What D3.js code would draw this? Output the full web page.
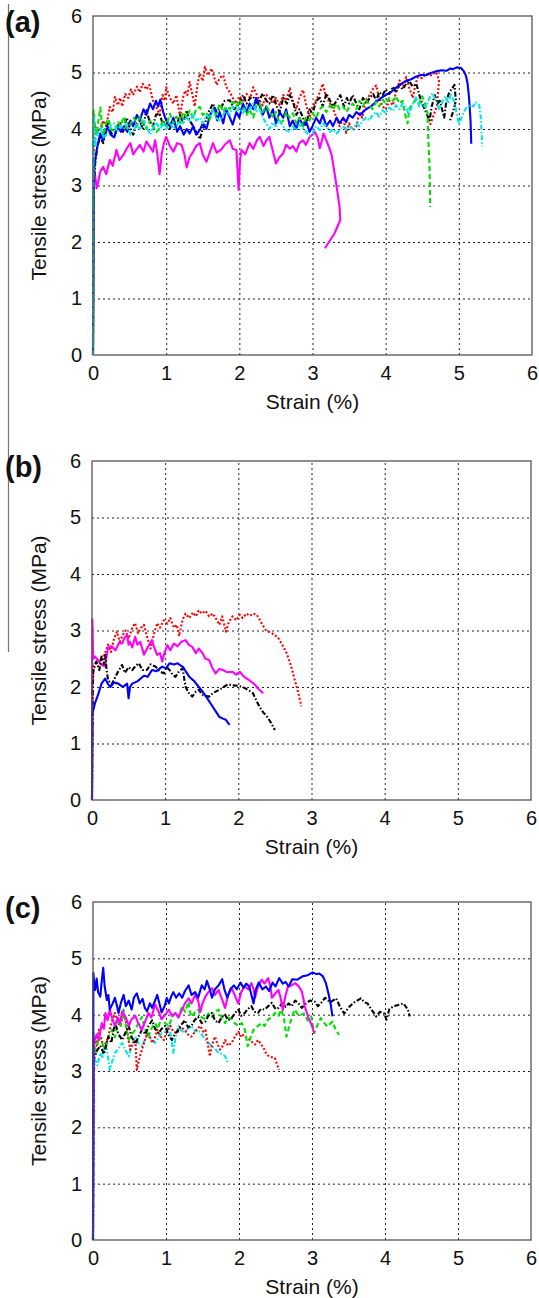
<!DOCTYPE html>
<html>
<head>
<meta charset="utf-8">
<script src="https://cdn.jsdelivr.net/npm/d3@7"></script>
<style>
  body { margin: 0; background: #fff; }
  svg { display: block; font-family: "Liberation Sans", Arial, sans-serif; }
</style>
</head>
<body>
<script>
// axis ticks shared by all three panels
const strainTicks = [0, 1, 2, 3, 4, 5, 6];
const stressTicks = [0, 1, 2, 3, 4, 5, 6];
const panelLabels = ["(a)", "(b)", "(c)"];
const xTitle = "Strain (%)";
const yTitle = "Tensile stress (MPa)";

// ---- panel (a) : [strain %, stress MPa]
const aRed = [[0,0],[0.01,3.6],[0.03,4.04],[0.08,3.95],[0.14,4.15],[0.18,4.05],[0.23,4.39],[0.27,4.3],[0.3,4.57],[0.34,4.42],[0.37,4.55],[0.4,4.4],[0.44,4.62],[0.48,4.55],[0.52,4.7],[0.55,4.6],[0.6,4.75],[0.64,4.65],[0.68,4.8],[0.73,4.7],[0.77,4.78],[0.82,4.5],[0.86,4.4],[0.91,4.25],[0.95,4.6],[0.98,4.5],[1.0,4.74],[1.05,4.55],[1.1,4.45],[1.14,4.6],[1.19,4.22],[1.23,4.55],[1.26,4.68],[1.29,4.6],[1.32,4.83],[1.36,4.6],[1.39,4.4],[1.43,4.8],[1.46,4.98],[1.5,4.85],[1.53,5.1],[1.57,4.95],[1.62,5.07],[1.66,4.9],[1.69,4.78],[1.73,4.9],[1.78,4.95],[1.82,4.75],[1.87,4.65],[1.91,4.55],[1.96,4.45],[2.0,4.58],[2.05,4.5],[2.1,4.62],[2.15,4.55],[2.19,4.74],[2.24,4.6],[2.28,4.5],[2.32,4.42],[2.37,4.6],[2.41,4.55],[2.46,4.45],[2.5,4.55],[2.55,4.42],[2.6,4.6],[2.64,4.5],[2.69,4.72],[2.73,4.5],[2.78,4.35],[2.82,4.55],[2.87,4.69],[2.91,4.45],[2.96,4.2],[3.0,4.4],[3.05,4.51],[3.1,4.65],[3.14,4.8],[3.18,4.6],[3.22,4.5],[3.26,4.4],[3.3,4.3],[3.34,4.15],[3.37,4.05],[3.42,4.2],[3.46,3.93],[3.5,4.1],[3.55,3.98],[3.6,4.05],[3.64,4.3],[3.68,4.2],[3.73,4.51],[3.78,4.6],[3.82,4.7],[3.87,4.77],[3.91,4.55],[3.96,4.4],[4.0,4.35],[4.05,4.5],[4.1,4.42],[4.15,4.7],[4.19,4.86],[4.24,4.75],[4.28,4.92],[4.33,4.7],[4.37,4.55],[4.41,4.8],[4.44,4.92],[4.5,4.9],[4.55,4.98],[4.62,4.95],[4.69,5.01],[4.73,4.86],[4.7,4.4],[4.6,4.05]];
const aBlack = [[0,0],[0.01,3.0],[0.03,3.39],[0.06,3.7],[0.1,3.85],[0.14,3.75],[0.2,4.1],[0.24,3.95],[0.29,3.85],[0.33,4.05],[0.37,4.1],[0.41,3.95],[0.46,4.2],[0.5,4.05],[0.55,3.9],[0.6,4.1],[0.64,4.15],[0.68,4.0],[0.73,4.33],[0.77,4.15],[0.82,4.05],[0.86,4.25],[0.91,4.27],[0.95,4.1],[1.0,4.18],[1.05,4.0],[1.09,4.15],[1.14,4.05],[1.19,4.25],[1.23,4.1],[1.28,4.33],[1.32,4.15],[1.37,4.05],[1.41,3.95],[1.46,3.82],[1.5,4.0],[1.53,4.1],[1.58,4.3],[1.64,4.45],[1.69,4.3],[1.75,4.38],[1.8,4.5],[1.87,4.51],[1.93,4.35],[2.0,4.45],[2.05,4.6],[2.1,4.45],[2.15,4.55],[2.19,4.57],[2.25,4.45],[2.32,4.63],[2.37,4.5],[2.41,4.45],[2.46,4.6],[2.51,4.4],[2.55,4.3],[2.6,4.55],[2.65,4.45],[2.69,4.6],[2.74,4.45],[2.78,4.25],[2.82,4.35],[2.87,4.2],[2.91,4.05],[2.96,4.35],[3.0,4.27],[3.05,4.5],[3.1,4.55],[3.14,4.4],[3.19,4.63],[3.24,4.5],[3.28,4.4],[3.33,4.5],[3.38,4.6],[3.43,4.4],[3.47,4.55],[3.5,4.45],[3.55,4.6],[3.6,4.45],[3.64,4.35],[3.69,4.55],[3.74,4.45],[3.78,4.55],[3.83,4.62],[3.87,4.5],[3.91,4.65],[3.96,4.6],[4.0,4.7],[4.05,4.62],[4.1,4.75],[4.14,4.65],[4.19,4.78],[4.23,4.7],[4.28,4.8],[4.32,4.85],[4.37,4.75],[4.42,4.8],[4.46,4.6],[4.5,4.45],[4.55,4.3],[4.6,4.15],[4.63,4.4],[4.67,4.6],[4.71,4.45],[4.74,4.5],[4.78,4.3],[4.8,4.2],[4.83,4.5],[4.87,4.65],[4.91,4.72],[4.94,4.78],[4.96,4.5],[4.92,4.3],[4.88,4.15]];
const aBlue = [[0,0],[0.01,3.2],[0.03,3.45],[0.06,3.7],[0.1,3.92],[0.14,3.8],[0.2,4.04],[0.24,3.9],[0.29,3.85],[0.34,4.05],[0.38,3.95],[0.42,4.04],[0.47,3.95],[0.51,4.15],[0.55,4.05],[0.6,4.25],[0.64,4.15],[0.69,4.35],[0.73,4.25],[0.78,4.45],[0.82,4.35],[0.86,4.5],[0.89,4.4],[0.92,4.52],[0.96,4.3],[1.0,4.15],[1.05,4.05],[1.1,4.2],[1.15,3.95],[1.19,4.05],[1.24,3.9],[1.28,4.0],[1.32,3.92],[1.37,4.05],[1.41,3.9],[1.46,3.98],[1.5,4.1],[1.55,4.0],[1.6,4.25],[1.66,4.38],[1.7,4.15],[1.73,4.3],[1.78,4.1],[1.82,4.35],[1.87,4.2],[1.91,4.08],[1.96,4.3],[2.0,4.2],[2.05,4.45],[2.1,4.3],[2.14,4.45],[2.19,4.35],[2.23,4.55],[2.28,4.4],[2.32,4.25],[2.37,4.4],[2.41,4.2],[2.46,4.35],[2.5,4.1],[2.55,4.3],[2.6,4.2],[2.64,4.35],[2.69,4.05],[2.73,4.15],[2.78,4.0],[2.82,4.2],[2.87,4.05],[2.91,4.15],[2.96,3.95],[3.0,4.05],[3.05,4.2],[3.1,4.1],[3.14,4.25],[3.19,4.05],[3.24,4.15],[3.28,4.05],[3.33,4.2],[3.37,4.1],[3.42,4.2],[3.46,4.12],[3.5,4.25],[3.55,4.2],[3.6,4.3],[3.65,4.25],[3.73,4.35],[3.8,4.4],[3.87,4.48],[3.94,4.55],[4.0,4.6],[4.07,4.65],[4.14,4.73],[4.21,4.8],[4.28,4.85],[4.35,4.88],[4.42,4.93],[4.49,4.96],[4.55,4.95],[4.62,4.99],[4.69,5.02],[4.76,5.04],[4.83,5.03],[4.88,5.07],[4.92,5.06],[4.97,5.09],[5.03,5.08],[5.07,5.02],[5.1,4.93],[5.12,4.8],[5.14,4.55],[5.16,4.15],[5.17,3.74]];
const aGreen = [[0,0],[0.005,4.3],[0.01,4.33],[0.03,4.0],[0.05,3.9],[0.08,4.2],[0.1,4.38],[0.12,4.1],[0.14,3.88],[0.18,4.1],[0.21,4.18],[0.25,4.0],[0.3,3.95],[0.34,4.12],[0.38,4.05],[0.42,4.22],[0.47,4.0],[0.51,4.08],[0.56,4.2],[0.6,4.05],[0.64,4.22],[0.69,4.1],[0.73,4.0],[0.78,4.15],[0.82,4.05],[0.87,3.95],[0.91,4.02],[0.96,4.15],[1.0,4.05],[1.05,4.27],[1.1,4.1],[1.14,4.22],[1.19,4.1],[1.23,4.3],[1.28,4.2],[1.32,4.33],[1.37,4.2],[1.41,4.35],[1.46,4.39],[1.5,4.25],[1.55,4.3],[1.59,4.15],[1.64,4.35],[1.68,4.25],[1.73,4.45],[1.78,4.3],[1.82,4.4],[1.87,4.35],[1.91,4.48],[1.96,4.4],[2.0,4.52],[2.05,4.4],[2.1,4.25],[2.14,4.35],[2.19,4.2],[2.23,4.4],[2.28,4.45],[2.32,4.3],[2.37,4.4],[2.41,4.32],[2.46,4.2],[2.5,4.3],[2.55,4.1],[2.6,4.15],[2.64,4.3],[2.69,4.2],[2.73,4.28],[2.78,4.1],[2.82,4.2],[2.87,4.05],[2.91,4.2],[2.96,4.15],[3.0,4.28],[3.05,4.2],[3.1,4.35],[3.14,4.4],[3.19,4.3],[3.24,4.42],[3.28,4.35],[3.33,4.45],[3.37,4.35],[3.42,4.4],[3.46,4.3],[3.5,4.38],[3.55,4.45],[3.6,4.35],[3.64,4.5],[3.69,4.4],[3.73,4.52],[3.78,4.42],[3.82,4.35],[3.87,4.48],[3.91,4.4],[3.96,4.52],[4.0,4.45],[4.05,4.55],[4.1,4.5],[4.14,4.58],[4.19,4.45],[4.23,4.5],[4.26,4.3],[4.28,4.18],[4.3,4.1],[4.32,4.35],[4.37,4.45],[4.42,4.52],[4.46,4.45],[4.5,4.58],[4.54,4.45],[4.57,4.3],[4.58,3.92],[4.6,3.33],[4.61,2.62]];
const aCyan = [[0,0],[0.005,4.2],[0.01,4.25],[0.03,3.68],[0.06,3.9],[0.1,4.04],[0.14,3.85],[0.2,3.92],[0.24,4.05],[0.29,4.1],[0.33,3.95],[0.37,4.05],[0.42,4.0],[0.46,4.1],[0.51,3.9],[0.55,3.96],[0.6,4.1],[0.64,4.0],[0.69,4.15],[0.73,4.05],[0.78,3.9],[0.82,4.02],[0.87,4.12],[0.91,3.98],[0.96,4.1],[1.0,4.0],[1.05,4.12],[1.1,4.0],[1.14,4.05],[1.19,4.18],[1.23,4.1],[1.28,4.22],[1.32,4.12],[1.37,4.27],[1.41,4.15],[1.46,4.2],[1.5,4.1],[1.55,4.25],[1.59,4.2],[1.64,4.33],[1.68,4.2],[1.73,4.15],[1.78,4.25],[1.82,4.35],[1.87,4.25],[1.91,4.4],[1.96,4.3],[2.0,4.38],[2.05,4.28],[2.1,4.4],[2.14,4.35],[2.19,4.45],[2.23,4.3],[2.28,4.35],[2.32,4.2],[2.37,4.1],[2.41,4.0],[2.46,4.12],[2.5,4.05],[2.55,4.15],[2.6,4.05],[2.64,3.98],[2.69,3.95],[2.73,4.05],[2.78,3.98],[2.82,4.08],[2.87,4.02],[2.91,3.95],[2.96,3.88],[3.0,3.92],[3.05,4.05],[3.1,3.98],[3.14,4.1],[3.19,4.05],[3.24,3.95],[3.28,4.0],[3.33,3.92],[3.37,3.98],[3.42,4.05],[3.46,3.98],[3.5,4.05],[3.55,4.0],[3.6,4.1],[3.64,4.05],[3.69,4.15],[3.73,4.2],[3.78,4.15],[3.82,4.25],[3.87,4.3],[3.91,4.22],[3.96,4.33],[4.0,4.28],[4.05,4.38],[4.1,4.32],[4.14,4.42],[4.19,4.35],[4.23,4.45],[4.28,4.38],[4.32,4.25],[4.37,4.45],[4.42,4.57],[4.46,4.4],[4.5,4.45],[4.55,4.38],[4.6,4.55],[4.64,4.63],[4.69,4.5],[4.73,4.35],[4.78,4.5],[4.82,4.58],[4.86,4.45],[4.89,4.63],[4.93,4.5],[4.96,4.35],[5.0,4.08],[5.05,4.25],[5.1,4.37],[5.15,4.42],[5.2,4.4],[5.23,4.48],[5.28,4.42],[5.3,4.2],[5.32,3.69]];
const aMagenta = [[0,0],[0.005,2.0],[0.01,3.3],[0.03,3.18],[0.05,2.95],[0.07,3.05],[0.1,3.25],[0.14,3.33],[0.18,3.2],[0.23,3.45],[0.27,3.35],[0.32,3.63],[0.36,3.45],[0.42,3.55],[0.46,3.65],[0.51,3.75],[0.55,3.55],[0.6,3.65],[0.64,3.72],[0.69,3.6],[0.73,3.78],[0.78,3.68],[0.82,3.6],[0.85,3.8],[0.88,3.55],[0.91,3.2],[0.94,3.57],[0.97,3.75],[1.0,3.86],[1.05,3.7],[1.1,3.6],[1.15,3.75],[1.21,3.72],[1.25,3.55],[1.28,3.32],[1.32,3.5],[1.37,3.6],[1.41,3.7],[1.46,3.75],[1.5,3.55],[1.55,3.42],[1.6,3.6],[1.64,3.75],[1.69,3.58],[1.75,3.63],[1.8,3.72],[1.87,3.8],[1.91,3.65],[1.96,3.63],[1.99,2.92],[2.01,3.45],[2.03,3.63],[2.08,3.55],[2.14,3.75],[2.19,3.65],[2.24,3.8],[2.28,3.86],[2.33,3.7],[2.37,3.8],[2.41,3.86],[2.46,3.6],[2.5,3.39],[2.55,3.5],[2.6,3.57],[2.64,3.72],[2.69,3.65],[2.73,3.7],[2.78,3.6],[2.82,3.75],[2.87,3.8],[2.91,3.72],[2.96,3.86],[3.0,3.9],[3.03,3.95],[3.07,3.85],[3.1,3.66],[3.13,3.8],[3.15,3.92],[3.19,3.8],[3.23,3.66],[3.26,3.55],[3.28,3.39],[3.31,3.15],[3.33,2.98],[3.35,2.8],[3.37,2.62],[3.38,2.39],[3.3,2.15],[3.17,1.89]];

// ---- panel (b)
const bRed = [[0,0],[0.01,2.1],[0.02,2.3],[0.04,2.36],[0.08,2.5],[0.12,2.45],[0.18,2.6],[0.22,2.75],[0.26,2.62],[0.3,2.85],[0.34,2.98],[0.38,2.8],[0.42,2.92],[0.46,3.0],[0.5,2.85],[0.55,3.05],[0.59,3.13],[0.63,2.95],[0.67,3.05],[0.71,3.1],[0.75,2.9],[0.8,2.68],[0.84,2.9],[0.89,3.13],[0.93,3.05],[0.98,3.18],[1.03,3.12],[1.07,3.22],[1.12,3.05],[1.16,3.1],[1.19,2.9],[1.24,3.2],[1.28,3.3],[1.33,3.22],[1.38,3.32],[1.42,3.25],[1.46,3.36],[1.5,3.3],[1.55,3.35],[1.6,3.25],[1.65,3.3],[1.69,3.22],[1.74,3.1],[1.78,3.25],[1.83,2.98],[1.87,3.15],[1.92,3.25],[1.97,3.18],[2.02,3.28],[2.06,3.22],[2.11,3.3],[2.16,3.26],[2.2,3.3],[2.25,3.28],[2.29,3.2],[2.33,3.1],[2.38,3.0],[2.46,2.95],[2.54,2.88],[2.6,2.75],[2.66,2.6],[2.72,2.38],[2.77,2.13],[2.82,1.9],[2.86,1.66]];
const bMagenta = [[0,0],[0.005,3.2],[0.015,2.6],[0.02,2.5],[0.04,2.54],[0.08,2.48],[0.12,2.4],[0.18,2.36],[0.2,2.55],[0.22,2.7],[0.27,2.72],[0.32,2.65],[0.37,2.78],[0.41,2.77],[0.45,2.88],[0.48,2.92],[0.5,2.75],[0.52,2.8],[0.55,2.7],[0.59,2.89],[0.62,2.75],[0.66,2.8],[0.71,2.57],[0.76,2.7],[0.82,2.83],[0.85,2.7],[0.89,2.57],[0.93,2.6],[0.96,2.45],[0.99,2.6],[1.03,2.74],[1.07,2.65],[1.12,2.77],[1.17,2.72],[1.22,2.8],[1.28,2.83],[1.32,2.75],[1.37,2.71],[1.42,2.6],[1.46,2.68],[1.51,2.6],[1.55,2.5],[1.6,2.48],[1.64,2.35],[1.69,2.24],[1.74,2.32],[1.79,2.3],[1.85,2.26],[1.92,2.27],[1.97,2.22],[2.02,2.27],[2.08,2.18],[2.15,2.12],[2.22,2.05],[2.28,1.96],[2.34,1.89]];
const bBlack = [[0,0],[0.01,2.0],[0.02,2.36],[0.06,2.45],[0.1,2.3],[0.13,2.54],[0.16,2.4],[0.18,2.57],[0.2,2.3],[0.22,2.12],[0.27,2.05],[0.32,2.18],[0.36,2.28],[0.41,2.39],[0.45,2.25],[0.5,2.35],[0.55,2.3],[0.6,2.38],[0.64,2.42],[0.69,2.3],[0.75,2.3],[0.8,2.4],[0.87,2.36],[0.92,2.28],[0.98,2.24],[1.02,2.35],[1.06,2.3],[1.1,2.22],[1.14,2.18],[1.19,2.28],[1.24,2.33],[1.26,2.15],[1.28,2.0],[1.32,1.9],[1.37,1.83],[1.42,1.92],[1.46,1.95],[1.52,1.85],[1.6,1.83],[1.66,1.9],[1.74,1.95],[1.8,2.0],[1.86,2.05],[1.92,2.03],[2.0,2.02],[2.06,2.0],[2.13,1.95],[2.2,1.89],[2.25,1.75],[2.29,1.65],[2.34,1.55],[2.38,1.5],[2.44,1.38],[2.5,1.24]];
const bBlue = [[0,0],[0.005,1.56],[0.02,1.6],[0.04,1.71],[0.08,1.85],[0.13,2.06],[0.18,2.15],[0.22,2.05],[0.25,2.0],[0.3,2.08],[0.36,2.06],[0.42,2.0],[0.48,2.06],[0.5,1.8],[0.52,2.0],[0.55,2.06],[0.62,2.1],[0.71,2.2],[0.76,2.18],[0.82,2.3],[0.88,2.28],[0.96,2.36],[1.01,2.33],[1.06,2.42],[1.12,2.4],[1.17,2.42],[1.21,2.38],[1.24,2.36],[1.28,2.28],[1.33,2.18],[1.4,2.1],[1.46,2.0],[1.51,1.92],[1.56,1.83],[1.6,1.75],[1.65,1.65],[1.7,1.55],[1.74,1.47],[1.79,1.44],[1.83,1.42],[1.88,1.33]];

// ---- panel (c)
const cBlue = [[0,0],[0.005,4.74],[0.02,4.5],[0.03,4.44],[0.05,4.64],[0.07,4.4],[0.1,4.32],[0.12,4.6],[0.14,4.83],[0.16,4.5],[0.19,4.26],[0.21,4.35],[0.23,4.09],[0.27,4.2],[0.3,4.3],[0.33,4.15],[0.35,4.03],[0.38,4.2],[0.42,4.35],[0.45,4.15],[0.49,4.25],[0.53,4.09],[0.56,4.3],[0.6,4.38],[0.64,4.2],[0.68,4.28],[0.71,4.12],[0.74,4.06],[0.78,4.2],[0.81,4.12],[0.85,4.25],[0.88,4.35],[0.91,4.2],[0.94,4.04],[0.98,4.15],[1.01,4.3],[1.04,4.2],[1.07,4.32],[1.1,4.4],[1.14,4.3],[1.18,4.38],[1.22,4.3],[1.26,4.42],[1.31,4.52],[1.35,4.35],[1.4,4.4],[1.44,4.3],[1.49,4.52],[1.53,4.45],[1.56,4.6],[1.6,4.45],[1.63,4.3],[1.67,4.45],[1.72,4.52],[1.77,4.63],[1.8,4.45],[1.84,4.3],[1.88,4.45],[1.93,4.52],[1.97,4.45],[2.02,4.57],[2.06,4.48],[2.1,4.55],[2.14,4.5],[2.17,4.35],[2.2,4.2],[2.23,4.45],[2.27,4.57],[2.32,4.45],[2.37,4.5],[2.41,4.42],[2.46,4.57],[2.5,4.5],[2.55,4.65],[2.6,4.55],[2.64,4.58],[2.68,4.5],[2.73,4.63],[2.8,4.62],[2.87,4.68],[2.94,4.7],[3.01,4.75],[3.06,4.72],[3.1,4.73],[3.15,4.68],[3.19,4.56],[3.23,4.35],[3.26,4.15],[3.28,3.97]];
const cMagenta = [[0,0],[0.01,3.5],[0.05,3.65],[0.08,3.55],[0.12,3.85],[0.15,3.75],[0.17,4.03],[0.2,3.9],[0.23,4.09],[0.26,3.95],[0.3,3.8],[0.34,3.95],[0.37,3.85],[0.4,4.06],[0.45,3.95],[0.49,3.8],[0.53,3.92],[0.58,3.98],[0.62,3.85],[0.67,3.73],[0.72,3.9],[0.76,4.03],[0.8,3.95],[0.85,4.18],[0.9,4.05],[0.94,3.92],[0.99,4.0],[1.04,4.09],[1.08,3.98],[1.13,4.03],[1.17,3.95],[1.22,4.09],[1.26,4.2],[1.31,4.29],[1.35,4.2],[1.4,4.35],[1.44,4.25],[1.47,4.05],[1.5,4.2],[1.54,4.32],[1.58,4.4],[1.63,4.47],[1.67,4.35],[1.72,4.44],[1.76,4.3],[1.81,4.12],[1.85,4.35],[1.9,4.47],[1.94,4.35],[1.99,4.2],[2.03,4.4],[2.08,4.5],[2.13,4.45],[2.17,4.56],[2.2,4.45],[2.22,4.3],[2.26,4.5],[2.31,4.62],[2.35,4.55],[2.4,4.65],[2.43,4.5],[2.45,4.3],[2.5,4.38],[2.54,4.44],[2.57,4.3],[2.6,4.08],[2.63,4.3],[2.67,4.5],[2.72,4.52],[2.77,4.56],[2.82,4.5],[2.86,4.41],[2.88,4.3],[2.9,4.15],[2.95,3.95],[3.0,3.8],[3.03,3.67]];
const cBlack = [[0,0],[0.01,3.2],[0.05,3.35],[0.1,3.45],[0.15,3.3],[0.21,3.61],[0.25,3.5],[0.3,3.85],[0.35,3.65],[0.4,3.55],[0.45,3.7],[0.49,3.8],[0.53,3.6],[0.58,3.48],[0.62,3.6],[0.67,3.73],[0.72,3.65],[0.76,3.8],[0.81,3.9],[0.85,3.75],[0.9,3.67],[0.94,3.75],[0.99,3.8],[1.03,3.65],[1.08,3.55],[1.12,3.65],[1.17,3.73],[1.21,3.82],[1.26,3.9],[1.3,3.78],[1.35,3.8],[1.39,3.9],[1.44,3.96],[1.49,3.85],[1.54,3.88],[1.58,3.98],[1.63,4.03],[1.67,3.9],[1.72,3.85],[1.76,3.95],[1.81,4.0],[1.85,3.9],[1.9,3.94],[1.94,4.02],[1.99,4.09],[2.03,3.98],[2.08,4.03],[2.12,4.1],[2.17,4.15],[2.21,4.05],[2.26,4.03],[2.3,4.1],[2.35,4.09],[2.4,4.15],[2.45,4.21],[2.5,4.1],[2.54,4.12],[2.59,4.2],[2.64,4.14],[2.68,4.2],[2.72,4.15],[2.77,4.25],[2.81,4.21],[2.86,4.12],[2.9,4.18],[2.97,4.25],[3.04,4.23],[3.08,4.15],[3.12,4.2],[3.18,4.3],[3.25,4.22],[3.33,4.29],[3.38,4.15],[3.44,4.02],[3.51,4.14],[3.58,4.22],[3.67,4.29],[3.72,4.22],[3.76,4.2],[3.82,4.08],[3.88,3.97],[3.93,4.05],[3.99,4.02],[4.02,3.91],[4.06,4.1],[4.12,4.15],[4.18,4.17],[4.25,4.2],[4.31,4.1],[4.34,3.97]];
const cGreen = [[0,0],[0.005,3.7],[0.01,3.5],[0.04,3.3],[0.08,3.61],[0.12,3.5],[0.17,3.4],[0.21,3.6],[0.26,3.73],[0.3,3.6],[0.35,3.9],[0.38,3.8],[0.42,4.09],[0.45,3.8],[0.49,3.55],[0.53,3.65],[0.58,3.73],[0.62,3.85],[0.67,3.96],[0.71,3.75],[0.76,3.61],[0.8,3.75],[0.85,3.85],[0.89,3.75],[0.94,3.96],[0.99,3.85],[1.04,3.8],[1.08,3.95],[1.13,4.03],[1.17,3.95],[1.22,4.15],[1.26,4.05],[1.31,4.23],[1.33,4.05],[1.35,3.96],[1.4,4.05],[1.44,4.09],[1.49,3.95],[1.54,3.92],[1.58,4.02],[1.63,3.96],[1.67,4.05],[1.72,4.09],[1.76,3.95],[1.81,3.85],[1.85,3.95],[1.9,3.92],[1.94,3.85],[1.99,3.8],[2.04,3.85],[2.08,3.73],[2.12,3.44],[2.16,3.6],[2.2,3.73],[2.26,3.8],[2.31,3.85],[2.35,3.8],[2.4,3.92],[2.45,3.95],[2.49,4.03],[2.54,3.98],[2.58,4.09],[2.62,3.9],[2.65,3.61],[2.7,3.85],[2.76,4.09],[2.82,3.98],[2.89,4.02],[2.94,3.9],[2.99,3.97],[3.03,3.67],[3.07,3.8],[3.12,3.94],[3.17,3.85],[3.21,3.79],[3.28,3.88],[3.32,3.75],[3.37,3.64]];
const cRed = [[0,0],[0.01,3.3],[0.03,3.61],[0.05,3.45],[0.08,3.73],[0.11,3.6],[0.14,3.44],[0.18,3.5],[0.21,3.61],[0.25,3.85],[0.3,4.03],[0.33,3.9],[0.37,3.8],[0.41,3.95],[0.44,3.98],[0.48,3.6],[0.51,3.38],[0.55,3.5],[0.58,3.55],[0.6,3.02],[0.63,3.2],[0.67,3.38],[0.7,3.5],[0.74,3.67],[0.78,3.6],[0.81,3.5],[0.85,3.6],[0.88,3.73],[0.92,3.62],[0.97,3.55],[1.01,3.7],[1.06,3.8],[1.1,3.7],[1.15,3.67],[1.2,3.78],[1.26,3.73],[1.3,3.65],[1.35,3.61],[1.41,3.72],[1.47,3.8],[1.51,3.7],[1.54,3.73],[1.57,3.5],[1.6,3.26],[1.63,3.45],[1.67,3.61],[1.7,3.5],[1.74,3.38],[1.78,3.45],[1.81,3.55],[1.85,3.45],[1.9,3.5],[1.94,3.6],[1.99,3.7],[2.03,3.6],[2.06,3.64],[2.1,3.6],[2.15,3.55],[2.19,3.5],[2.22,3.47],[2.26,3.55],[2.29,3.5],[2.34,3.4],[2.38,3.29],[2.43,3.25],[2.49,3.23],[2.52,3.12],[2.55,3.02]];
const cCyan = [[0,0],[0.005,2.9],[0.03,3.2],[0.06,3.1],[0.1,3.32],[0.13,3.25],[0.17,3.5],[0.2,3.3],[0.23,3.02],[0.27,3.2],[0.3,3.32],[0.35,3.4],[0.4,3.5],[0.44,3.38],[0.49,3.26],[0.53,3.45],[0.58,3.61],[0.62,3.5],[0.67,3.44],[0.71,3.55],[0.76,3.67],[0.8,3.55],[0.85,3.5],[0.9,3.6],[0.94,3.67],[0.99,3.7],[1.04,3.8],[1.07,3.6],[1.1,3.32],[1.13,3.6],[1.17,3.8],[1.21,3.72],[1.26,3.67],[1.3,3.75],[1.35,3.8],[1.4,3.7],[1.44,3.73],[1.49,3.65],[1.54,3.55],[1.58,3.5],[1.63,3.44],[1.67,3.4],[1.72,3.32],[1.77,3.3],[1.81,3.26],[1.85,3.14]];

// line looks, MATLAB style
const looks = {
  red:     { color: "#ff0000", dash: "2,2" },
  black:   { color: "#000000", dash: "5,2,1.5,2" },
  blue:    { color: "#0000ff", dash: null },
  green:   { color: "#00e000", dash: "5,3" },
  cyan:    { color: "#00e5ee", dash: "5,2,1.5,2" },
  magenta: { color: "#ff00ff", dash: null }
};

const panels = [
  { label: panelLabels[0], box: { left: 93, right: 532, top: 16, bottom: 355 },
    series: [["magenta", aMagenta], ["red", aRed], ["black", aBlack], ["blue", aBlue], ["green", aGreen], ["cyan", aCyan]] },
  { label: panelLabels[1], box: { left: 92, right: 531, top: 461, bottom: 800 },
    series: [["red", bRed], ["magenta", bMagenta], ["black", bBlack], ["blue", bBlue]] },
  { label: panelLabels[2], box: { left: 93, right: 531, top: 902, bottom: 1240 },
    series: [["cyan", cCyan], ["red", cRed], ["green", cGreen], ["black", cBlack], ["magenta", cMagenta], ["blue", cBlue]] }
];

const W = 539, H = 1298;
const svg = d3.select("body").append("svg").attr("width", W).attr("height", H);

// stray grey rule at the left of the page
svg.append("line")
  .attr("x1", 8.5).attr("x2", 8.5).attr("y1", 4).attr("y2", 652)
  .attr("stroke", "#777").attr("stroke-width", 1.2);

panels.forEach(function (p) {
  const b = p.box;
  const x = d3.scaleLinear().domain([0, 6]).range([b.left, b.right]);
  const y = d3.scaleLinear().domain([0, 6]).range([b.bottom, b.top]);
  const g = svg.append("g");

  // dotted grid
  g.append("g")
    .attr("transform", "translate(0," + b.bottom + ")")
    .call(d3.axisBottom(x).tickValues(strainTicks.slice(1, -1)).tickSize(-(b.bottom - b.top)).tickFormat(""))
    .call(s => s.select(".domain").remove())
    .selectAll("line").attr("stroke", "#222").attr("stroke-dasharray", "2,3");
  g.append("g")
    .attr("transform", "translate(" + b.left + ",0)")
    .call(d3.axisLeft(y).tickValues(stressTicks.slice(1, -1)).tickSize(-(b.right - b.left)).tickFormat(""))
    .call(s => s.select(".domain").remove())
    .selectAll("line").attr("stroke", "#222").attr("stroke-dasharray", "2,3");

  // curves
  const line = d3.line().x(d => x(d[0])).y(d => y(d[1]));
  p.series.forEach(function (s) {
    const lk = looks[s[0]];
    g.append("path")
      .datum(s[1])
      .attr("d", line)
      .attr("fill", "none")
      .attr("stroke", lk.color)
      .attr("stroke-width", 2.1)
      .attr("stroke-linejoin", "round")
      .attr("stroke-dasharray", lk.dash);
  });

  // frame
  g.append("rect")
    .attr("x", b.left).attr("y", b.top)
    .attr("width", b.right - b.left).attr("height", b.bottom - b.top)
    .attr("fill", "none").attr("stroke", "#555").attr("stroke-width", 1.3);

  // tick labels
  const xa = g.append("g")
    .attr("transform", "translate(0," + b.bottom + ")")
    .call(d3.axisBottom(x).tickValues(strainTicks).tickSize(0).tickPadding(11).tickFormat(d3.format("d")));
  xa.select(".domain").remove();
  xa.selectAll("text").attr("font-size", 20).attr("fill", "#111").attr("font-family", "Liberation Sans, Arial, sans-serif");

  const ya = g.append("g")
    .attr("transform", "translate(" + b.left + ",0)")
    .call(d3.axisLeft(y).tickValues(stressTicks).tickSize(0).tickPadding(11).tickFormat(d3.format("d")));
  ya.select(".domain").remove();
  ya.selectAll("text").attr("font-size", 20).attr("fill", "#111").attr("font-family", "Liberation Sans, Arial, sans-serif");

  // titles
  g.append("text")
    .attr("x", (b.left + b.right) / 2).attr("y", b.bottom + 54)
    .attr("text-anchor", "middle").attr("font-size", 21).attr("fill", "#111")
    .text(xTitle);
  g.append("text")
    .attr("transform", "translate(46," + ((b.top + b.bottom) / 2) + ") rotate(-90)")
    .attr("text-anchor", "middle").attr("font-size", 21).attr("fill", "#111")
    .text(yTitle);
  g.append("text")
    .attr("x", 5).attr("y", b.top + 16)
    .attr("font-size", 29).attr("font-weight", "bold").attr("fill", "#111")
    .text(p.label);
});
</script>
</body>
</html>
